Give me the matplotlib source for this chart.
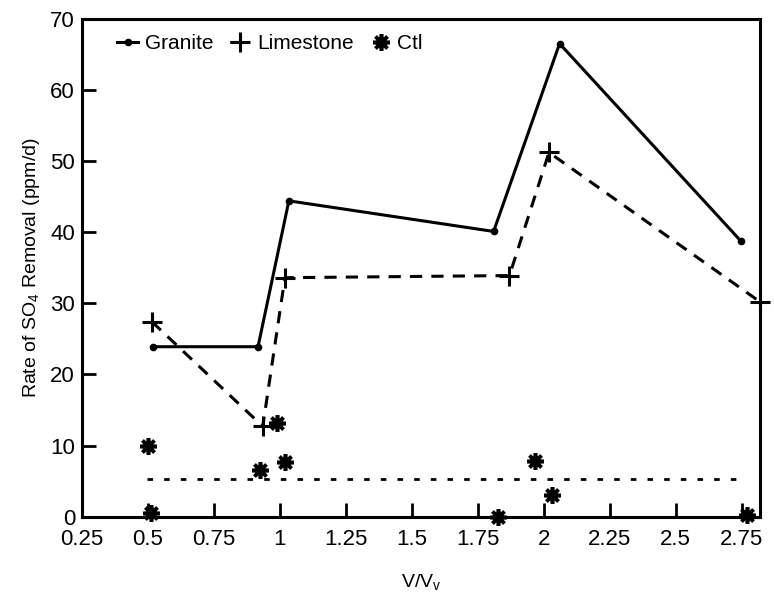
import matplotlib.pyplot as plt

plt.rcParams['font.family'] = ['Liberation Sans', 'DejaVu Sans']

# Data
granite_x = [0.52, 0.917, 1.034, 1.81, 2.06, 2.746]
granite_y = [23.9, 23.9, 44.4, 40.1, 66.5, 38.8]

limestone_x = [0.515, 0.935, 1.019, 1.87, 2.02, 2.82]
limestone_y = [27.4, 12.7, 33.6, 33.9, 51.2, 30.2]

ctl_x = [0.5, 0.51, 0.924, 0.99, 1.02, 1.826, 1.966, 2.03, 2.77]
ctl_y = [10.0, 0.5, 6.6, 13.2, 7.7, 0.0, 7.9, 3.0, 0.3]

ctl_mean = 5.3
ctl_mean_range = [0.496, 2.77]

x_ticks = [0.25, 0.5, 0.75, 1, 1.25, 1.5, 1.75, 2, 2.25, 2.5, 2.75]
x_tick_labels = ['0.25', '0.5', '0.75', '1', '1.25', '1.5', '1.75', '2', '2.25', '2.5', '2.75']
y_ticks = [0, 10, 20, 30, 40, 50, 60, 70]

fig = plt.figure(figsize=(7.74, 6.03), dpi=100)
ax = fig.add_axes([0.106, 0.143, 0.876, 0.826])

ax.plot(granite_x, granite_y, color='black', lw=2.2, marker='o', ms=4.5,
        label='Granite', clip_on=False)
ax.plot(limestone_x, limestone_y, color='black', lw=2.2, ls=(0, (4, 3)),
        marker='+', ms=15, mew=2.2, label='Limestone', clip_on=False)
ax.plot(ctl_x, ctl_y, color='black', lw=0, marker=(8, 2, 0), ms=12, mew=2.6,
        label='Ctl', clip_on=False, zorder=5)
ax.plot(ctl_mean_range, [ctl_mean, ctl_mean], color='black', lw=2,
        ls=(0, (2, 4)))

ax.set_xlim(0.25, 2.82)
ax.set_ylim(0, 70)
ax.set_xticks(x_ticks)
ax.set_xticklabels(x_tick_labels)
ax.set_yticks(y_ticks)

ax.tick_params(axis='both', direction='in', length=10, width=2,
               labelsize=16, top=False, right=False)
ax.tick_params(axis='x', pad=9)
ax.tick_params(axis='y', pad=5)
for s in ax.spines.values():
    s.set_linewidth(2.2)

ax.set_xlabel(r'V/V$_\mathregular{v}$', fontsize=14, labelpad=16)
ax.set_ylabel(r'Rate of SO$_\mathregular{4}$ Removal (ppm/d)', fontsize=14, labelpad=6)

leg = ax.legend(loc='upper left', bbox_to_anchor=(0.04, 0.985), ncol=3,
                frameon=False, fontsize=15, handlelength=1.0,
                handletextpad=0.3, columnspacing=0.8, borderaxespad=0)

fig.savefig('out.png', dpi=100)
